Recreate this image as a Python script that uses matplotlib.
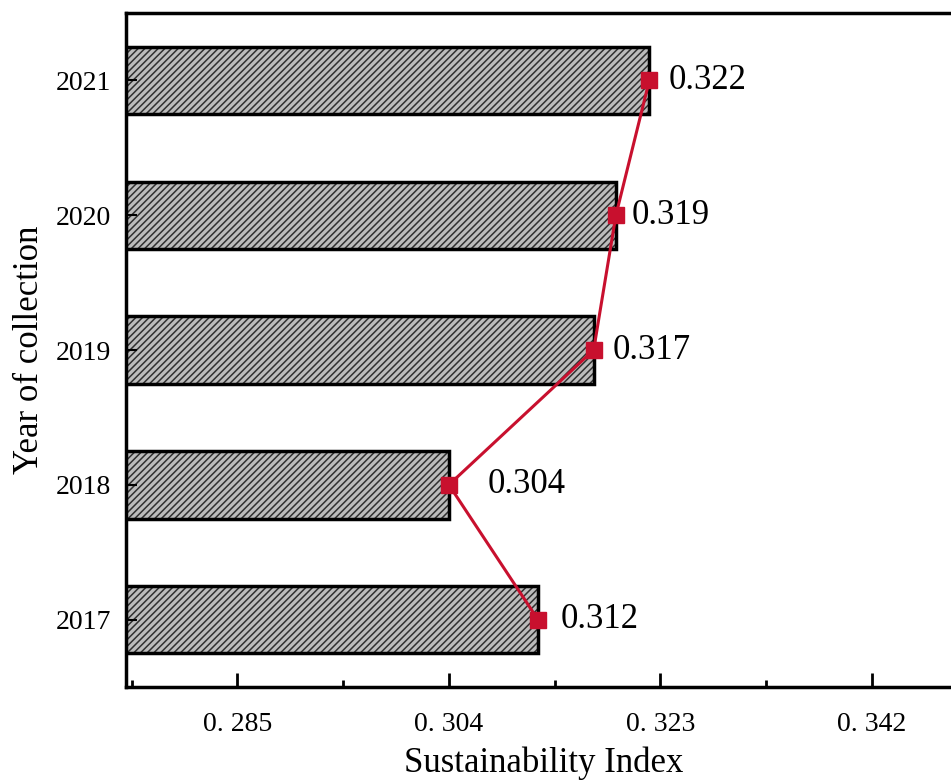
import matplotlib
matplotlib.use("Agg")
import matplotlib.pyplot as plt
from matplotlib.ticker import FixedLocator, MultipleLocator

plt.rcParams['font.family'] = ['Liberation Serif', 'DejaVu Serif']
plt.rcParams['hatch.linewidth'] = 1.1

years = [2017, 2018, 2019, 2020, 2021]
index = [0.312, 0.304, 0.317, 0.319, 0.322]
labels = ["0.312", "0.304", "0.317", "0.319", "0.322"]
xticks = [0.285, 0.304, 0.323, 0.342]
xticklabels = ["0. 285", "0. 304", "0. 323", "0. 342"]

# label offsets in points (x)
label_dx = {2017: 16, 2018: 28, 2019: 14, 2020: 11, 2021: 14}

red = "#c8102e"

fig = plt.figure(figsize=(9.51, 7.8), dpi=100)
ax = fig.add_axes([0.1325, 0.1192, 0.9015, 0.8641])

ax.barh(years, index, height=0.5, color="#bcbcbc", edgecolor="#303030",
        hatch="/////", linewidth=0)
ax.barh(years, index, height=0.5, fill=False, edgecolor="black", linewidth=2.5)
ax.plot(index, years, color=red, linewidth=2.2, marker="s", markersize=11,
        zorder=5)

for y, v, t in zip(years, index, labels):
    ax.annotate(t, xy=(v, y), xytext=(label_dx[y], 0), textcoords="offset points",
                va="center", ha="left", fontsize=25)

ax.set_xlim(0.275, 0.352)
ax.set_ylim(2016.5, 2021.5)
ax.xaxis.set_major_locator(FixedLocator(xticks))
ax.set_xticklabels(xticklabels)
ax.xaxis.set_minor_locator(MultipleLocator(0.0095))
ax.set_yticks(years)
ax.set_yticklabels([str(y) for y in years])

ax.tick_params(axis="x", which="major", direction="in", length=10, width=2,
               labelsize=20, pad=18)
ax.tick_params(axis="x", which="minor", direction="in", length=5, width=2)
ax.tick_params(axis="y", which="major", direction="in", length=8, width=1.5,
               labelsize=20, pad=11)
ax.tick_params(top=False, right=False)

for s in ax.spines.values():
    s.set_linewidth(2.5)

fig.text(544 / 951, 0.0, "Sustainability Index", fontsize=25,
         ha="center", va="bottom")
fig.text(30 / 951, 1 - 350 / 780, "Year of collection", fontsize=25,
         rotation=90, ha="center", va="center")

fig.savefig("out.png", dpi=100)
